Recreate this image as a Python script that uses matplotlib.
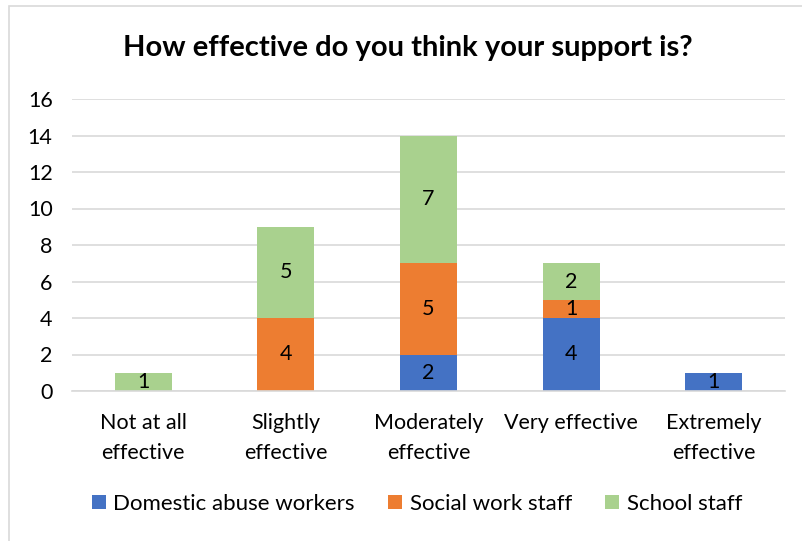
import numpy as np
import matplotlib
matplotlib.use('Agg')
import matplotlib.pyplot as plt
from matplotlib.patches import Rectangle

plt.rcParams['font.family'] = ['Lato', 'DejaVu Sans']

categories = ['Not at all\neffective', 'Slightly\neffective', 'Moderately\neffective',
              'Very effective', 'Extremely\neffective']
domestic = [0, 0, 2, 4, 1]
social = [0, 4, 5, 1, 0]
school = [1, 5, 7, 2, 0]
series_names = ['Domestic abuse workers', 'Social work staff', 'School staff']
colors = ['#4472C4', '#ED7D31', '#A9D18E']

fig = plt.figure(figsize=(8.03, 5.41), dpi=100)
ax = fig.add_axes([72 / 803, 1 - 391 / 541, 713 / 803, 292 / 541])

# outer chart border (cut at right / bottom like the reference)
fig.patches.append(Rectangle((9 / 803, -0.05), 1.2, 1 - 6 / 541 + 0.05,
                             transform=fig.transFigure, fill=False,
                             edgecolor='#D9D9D9', linewidth=1.2))

x = np.arange(len(categories))
bottom = np.zeros(len(categories))
for name, vals, col in zip(series_names, [domestic, social, school], colors):
    vals = np.array(vals)
    ax.bar(x, vals, width=0.4, bottom=bottom, color=col, label=name, zorder=2)
    for xi, v, b in zip(x, vals, bottom):
        if v > 0:
            ax.text(xi, b + v / 2, str(v), ha='center', va='center',
                    fontsize=15.5, color='#000000', zorder=3)
    bottom += vals

ax.set_xlim(-0.5, len(categories) - 0.5)
ax.set_ylim(0, 16)
ax.set_yticks(range(0, 17, 2))
ax.yaxis.grid(True, color='#D9D9D9', linewidth=1.2, zorder=0)
ax.set_axisbelow(True)
for s in ['top', 'right', 'left']:
    ax.spines[s].set_visible(False)
ax.spines['bottom'].set_color('#D9D9D9')
ax.spines['bottom'].set_linewidth(1.2)
ax.tick_params(axis='both', length=0, labelsize=15.5, colors='#000000')
ax.tick_params(axis='y', pad=14)
ax.tick_params(axis='x', pad=16)
ax.set_xticks(x)
ax.set_xticklabels(categories, linespacing=1.6)

fig.text(408 / 803, 1 - 48 / 541, 'How effective do you think your support is?',
         ha='center', va='center', fontsize=21, fontweight='bold')

fig.legend(loc='center', bbox_to_anchor=(417 / 803, 1 - 504 / 541), ncol=3, frameon=False,
           fontsize=16, handlelength=0.62, handleheight=0.62, handletextpad=0.35,
           columnspacing=1.5)

fig.savefig('out.png', dpi=100)
